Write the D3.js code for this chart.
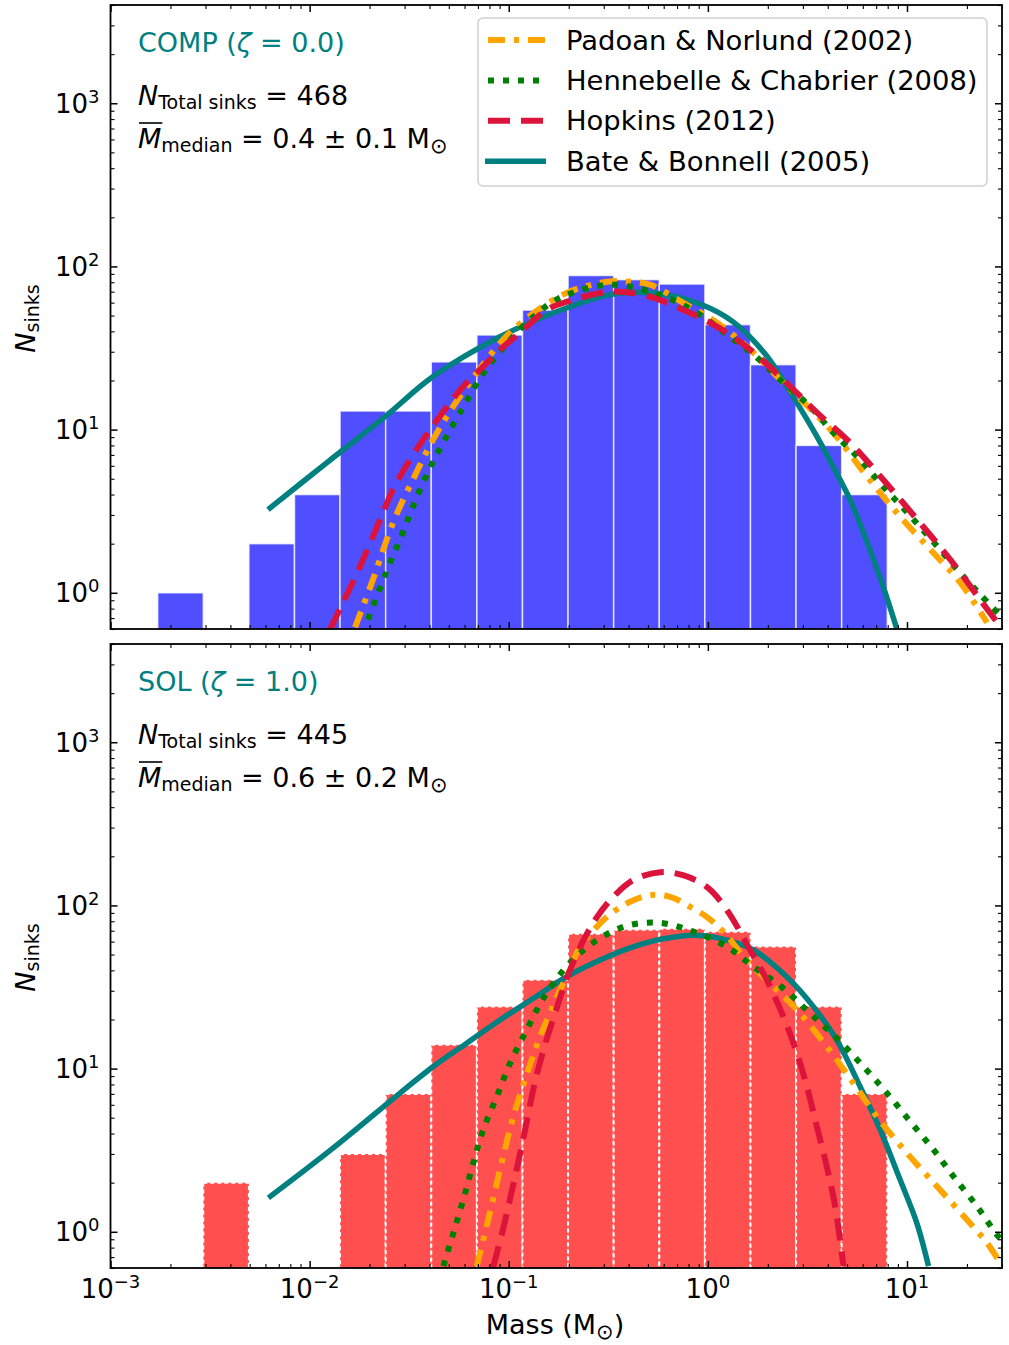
<!DOCTYPE html>
<html>
<head>
<meta charset="utf-8">
<script src="https://cdn.jsdelivr.net/npm/d3@7"></script>
<style>
  body { margin: 0; background: #fff; }
  text { font-family: "DejaVu Sans", sans-serif; }
</style>
</head>
<body>
<svg id="chart" width="1009" height="1345"></svg>
<script>
// histogram bin edges (Msun) and sink counts per bin
const binEdges = [0.001726, 0.002924, 0.004955, 0.008395, 0.01422, 0.02410, 0.04083, 0.06918,
  0.1172, 0.1986, 0.3365, 0.5702, 0.9661, 1.637, 2.773, 4.699, 7.962];
const compCounts = [1, 0, 2, 4, 13, 13, 26, 38, 54, 88, 83, 78, 44, 25, 8, 4];
const solCounts = [0, 2, 0, 0, 3, 7, 14, 24, 35, 67, 71, 72, 69, 56, 24, 7];

// model curves, [log10 M, log10 N]
const pnComp = [[-1.772,-0.212],[-1.682,0.081],[-1.581,0.430],[-1.481,0.694],[-1.380,0.939],[-1.280,1.141],
  [-1.159,1.349],[-1.029,1.551],[-0.893,1.698],[-0.707,1.839],[-0.506,1.906],[-0.391,1.906],[-0.290,1.888],
  [-0.125,1.778],[0.046,1.655],[0.212,1.490],[0.378,1.288],[0.629,0.982],[0.800,0.712],[0.965,0.467],
  [1.131,0.247],[1.267,0.063],[1.402,-0.182]];
const hcComp = [[-1.707,-0.164],[-1.606,0.155],[-1.536,0.357],[-1.471,0.559],[-1.395,0.767],[-1.310,0.963],
  [-1.219,1.159],[-1.129,1.343],[-1.019,1.514],[-0.893,1.674],[-0.742,1.808],[-0.476,1.888],[-0.205,1.808],
  [-0.039,1.704],[0.096,1.582],[0.247,1.441],[0.378,1.288],[0.513,1.141],[0.629,0.982],[0.764,0.816],
  [0.880,0.651],[1.001,0.492],[1.131,0.314],[1.252,0.143],[1.367,-0.010],[1.478,-0.151]];
const hopComp = [[-1.898,-0.225],[-1.832,-0.059],[-1.747,0.161],[-1.661,0.406],[-1.581,0.633],[-1.496,0.816],
  [-1.395,1.000],[-1.310,1.141],[-1.230,1.263],[-1.129,1.386],[-1.044,1.490],[-0.943,1.594],[-0.808,1.735],
  [-0.707,1.784],[-0.491,1.845],[-0.290,1.814],[-0.125,1.735],[0.046,1.631],[0.212,1.490],[0.378,1.306],
  [0.548,1.104],[0.714,0.920],[0.880,0.694],[1.051,0.449],[1.217,0.204],[1.367,-0.041],[1.453,-0.182]];
const bbComp = [[-2.209,0.510],[-1.913,0.798],[-1.621,1.080],[-1.380,1.325],[-1.044,1.569],[-0.707,1.747],
  [-0.466,1.833],[-0.240,1.833],[-0.030,1.765],[0.127,1.660],[0.290,1.460],[0.428,1.202],[0.548,0.957],
  [0.629,0.773],[0.714,0.571],[0.800,0.308],[0.880,0.039],[0.950,-0.225]];

const pnSol = [[-1.161,-0.210],[-1.111,0.034],[-1.044,0.381],[-0.977,0.707],[-0.902,0.993],[-0.843,1.196],
  [-0.793,1.339],[-0.751,1.462],[-0.709,1.563],[-0.642,1.747],[-0.558,1.869],[-0.475,1.961],[-0.391,2.022],
  [-0.290,2.063],[-0.190,2.053],[-0.089,1.991],[-0.006,1.930],[0.078,1.839],[0.195,1.665],[0.312,1.523],
  [0.447,1.360],[0.597,1.135],[0.731,0.911],[0.848,0.707],[0.999,0.483],[1.150,0.279],[1.300,0.075],
  [1.401,-0.067],[1.468,-0.190]];
const hcSol = [[-1.328,-0.210],[-1.278,-0.006],[-1.228,0.198],[-1.178,0.422],[-1.128,0.626],[-1.060,0.829],
  [-0.993,1.034],[-0.910,1.237],[-0.826,1.431],[-0.717,1.615],[-0.592,1.757],[-0.424,1.869],[-0.249,1.894],
  [-0.073,1.839],[0.095,1.747],[0.229,1.624],[0.379,1.492],[0.513,1.339],[0.647,1.187],[0.781,1.013],
  [0.899,0.850],[1.016,0.676],[1.133,0.503],[1.233,0.340],[1.351,0.157],[1.451,-0.017],[1.478,-0.053]];
const hopSol = [[-1.079,-0.218],[-1.029,0.014],[-0.983,0.259],[-0.928,0.565],[-0.868,0.919],[-0.818,1.146],
  [-0.762,1.360],[-0.712,1.543],[-0.642,1.745],[-0.557,1.928],[-0.476,2.051],[-0.376,2.155],[-0.240,2.204],
  [-0.125,2.185],[-0.004,2.112],[0.096,1.971],[0.212,1.727],[0.296,1.543],[0.379,1.319],[0.447,1.095],
  [0.497,0.891],[0.547,0.646],[0.597,0.401],[0.639,0.157],[0.681,-0.210]];
const bbSol = [[-2.207,0.208],[-1.881,0.514],[-1.546,0.850],[-1.379,1.013],[-1.211,1.156],[-1.044,1.298],
  [-0.876,1.431],[-0.709,1.563],[-0.541,1.665],[-0.390,1.740],[-0.230,1.794],[-0.073,1.818],
  [0.061,1.798],[0.229,1.727],[0.396,1.563],[0.530,1.380],[0.647,1.176],[0.764,0.891],[0.865,0.626],
  [0.965,0.320],[1.049,0.055],[1.108,-0.210]];

const models = ['Padoan & Norlund (2002)', 'Hennebelle & Chabrier (2008)', 'Hopkins (2012)', 'Bate & Bonnell (2005)'];
const xTicks = [1e-3, 1e-2, 1e-1, 1, 10];
const xTickExp = ['\u22123', '\u22122', '\u22121', '0', '1'];
const yTicks = [1, 10, 100, 1000];
const yTickExp = ['0', '1', '2', '3'];

const panels = [
  { name: 'COMP', zeta: '0.0', total: 468, median: '0.4 \u00b1 0.1', counts: compCounts,
    curves: [pnComp, hcComp, hopComp, bbComp], top: 5 },
  { name: 'SOL', zeta: '1.0', total: 445, median: '0.6 \u00b1 0.2', counts: solCounts,
    curves: [pnSol, hcSol, hopSol, bbSol], top: 644 }
];

const lineStyles = [
  { color: '#ffa500', dash: '17,9,5,9' },
  { color: '#008000', dash: '6,9' },
  { color: '#dc143c', dash: '22,11' },
  { color: '#008080', dash: null }
];
const barStyles = [
  { fill: '#4f4fff', dash: null, width: 1.5, opacity: 0.75 },
  { fill: '#ff4f4f', dash: '4,3', width: 2, opacity: 1 }
];

const svg = d3.select('#chart');
const left = 110.5, W = 891.5, H = 624;
const x = d3.scaleLog().domain([1e-3, 30]).range([0, W]);
const isMajor = v => Math.abs(Math.log10(v) - Math.round(Math.log10(v))) < 1e-6;

panels.forEach((p, pi) => {
  const y = d3.scaleLog().domain([0.6, 4000]).range([H, 0]);
  const g = svg.append('g').attr('transform', `translate(${left},${p.top})`);

  g.append('clipPath').attr('id', 'clip' + pi)
    .append('rect').attr('width', W).attr('height', H);
  const plot = g.append('g').attr('clip-path', `url(#clip${pi})`);

  const bs = barStyles[pi];
  const bins = p.counts.map((c, i) => ({ c, x0: binEdges[i], x1: binEdges[i + 1] })).filter(d => d.c > 0);
  plot.selectAll('rect.bar')
    .data(bins)
    .enter().append('rect')
    .attr('class', 'bar')
    .attr('x', d => x(d.x0))
    .attr('width', d => x(d.x1) - x(d.x0))
    .attr('y', d => y(d.c))
    .attr('height', d => H - y(d.c) + 4)
    .style('fill', bs.fill)
    .style('stroke', '#fff')
    .style('stroke-opacity', bs.opacity)
    .style('stroke-width', bs.width)
    .style('stroke-dasharray', bs.dash);

  const line = d3.line()
    .x(d => x(Math.pow(10, d[0])))
    .y(d => y(Math.pow(10, d[1])))
    .curve(d3.curveCatmullRom.alpha(0.5));

  [3, 0, 1, 2].forEach(k => {
    plot.append('path')
      .attr('d', line(p.curves[k]))
      .style('fill', 'none')
      .style('stroke', lineStyles[k].color)
      .style('stroke-width', k === 3 ? 5.5 : 6)
      .style('stroke-dasharray', lineStyles[k].dash);
  });

  // ticks, pointing inward on all four sides
  const minorX = x.ticks().filter(v => !isMajor(v));
  const minorY = y.ticks().filter(v => !isMajor(v));
  const tickSets = [
    [d3.axisBottom(x), `translate(0,${H})`, xTicks, minorX],
    [d3.axisTop(x), 'translate(0,0)', xTicks, minorX],
    [d3.axisLeft(y), 'translate(0,0)', yTicks, minorY],
    [d3.axisRight(y), `translate(${W},0)`, yTicks, minorY]
  ];
  tickSets.forEach(([axis, tr, major, minor]) => {
    g.append('g').attr('transform', tr)
      .call(axis.tickValues(major).tickSize(-7).tickSizeOuter(0).tickFormat(''))
      .call(s => s.select('.domain').remove())
      .selectAll('line').style('stroke', '#000').style('stroke-width', 1.5);
    g.append('g').attr('transform', tr)
      .call(axis.tickValues(minor).tickSize(-4).tickSizeOuter(0).tickFormat(''))
      .call(s => s.select('.domain').remove())
      .selectAll('line').style('stroke', '#000').style('stroke-width', 1.1);
  });

  g.append('rect')
    .attr('width', W).attr('height', H)
    .style('fill', 'none').style('stroke', '#000').style('stroke-width', 1.8);

  // y tick labels
  yTicks.forEach((v, i) => {
    const t = g.append('text')
      .attr('x', -11).attr('y', y(v) + 9.5)
      .attr('text-anchor', 'end')
      .style('font-size', '26px');
    t.append('tspan').text('10');
    t.append('tspan').attr('dy', -10).style('font-size', '18px').text(yTickExp[i]);
  });

  // x tick labels only under the lower panel
  if (pi === 1) {
    xTicks.forEach((v, i) => {
      const t = g.append('text')
        .attr('x', x(v)).attr('y', H + 30)
        .attr('text-anchor', 'middle')
        .style('font-size', '26px');
      t.append('tspan').text('10');
      t.append('tspan').attr('dy', -10).style('font-size', '18px').text(xTickExp[i]);
    });
  }

  // y label
  const yl = svg.append('text')
    .attr('transform', `translate(35,${p.top + 313.5}) rotate(-90)`)
    .attr('text-anchor', 'middle')
    .style('font-size', '27px');
  yl.append('tspan').style('font-style', 'italic').text('N');
  yl.append('tspan').attr('dy', 4).style('font-size', '19px').text('sinks');

  // annotations
  const a1 = svg.append('text')
    .attr('x', 138).attr('y', p.top + 47)
    .style('font-size', '27px').style('fill', '#008080');
  a1.append('tspan').text(`${p.name} (`);
  a1.append('tspan').style('font-style', 'italic').text('\u03b6');
  a1.append('tspan').text(` = ${p.zeta})`);

  const a2 = svg.append('text')
    .attr('x', 138).attr('y', p.top + 100)
    .style('font-size', '27px');
  a2.append('tspan').style('font-style', 'italic').text('N');
  a2.append('tspan').attr('dy', 4).style('font-size', '19px').text('Total sinks');
  a2.append('tspan').attr('dy', -4).text(` = ${p.total}`);

  const a3 = svg.append('text')
    .attr('x', 138).attr('y', p.top + 143)
    .style('font-size', '27px');
  a3.append('tspan').style('font-style', 'italic').text('M');
  a3.append('tspan').attr('dy', 4).style('font-size', '19px').text('median');
  a3.append('tspan').attr('dy', -4).text(` = ${p.median} M`);
  a3.append('tspan').attr('dy', 5).style('font-size', '21px').text('\u2299');
  const ext = a3.node().getExtentOfChar(0);
  svg.append('line')
    .attr('x1', ext.x + 1).attr('x2', ext.x + ext.width + 1)
    .attr('y1', p.top + 118).attr('y2', p.top + 118)
    .style('stroke', '#000').style('stroke-width', 1.6);
});

// x label
const xl = svg.append('text')
  .attr('x', 555).attr('y', 1334)
  .attr('text-anchor', 'middle')
  .style('font-size', '27px');
xl.append('tspan').text('Mass (M');
xl.append('tspan').attr('dy', 5).style('font-size', '21px').text('\u2299');
xl.append('tspan').attr('dy', -5).text(')');

// legend in the upper panel
const lg = svg.append('g').attr('transform', 'translate(478,18)');
lg.append('rect')
  .attr('width', 509).attr('height', 168).attr('rx', 5)
  .style('fill', '#fff').style('fill-opacity', 0.8)
  .style('stroke', '#d0d0d0').style('stroke-width', 1.5);
models.forEach((m, i) => {
  const row = lg.append('g').attr('transform', `translate(0,${22 + i * 40.4})`);
  row.append('line')
    .attr('x1', i === 3 ? 7 : 10).attr('x2', i === 3 ? 68 : 67)
    .style('stroke', lineStyles[i].color)
    .style('stroke-width', i === 3 ? 5.5 : 6)
    .style('stroke-dasharray', lineStyles[i].dash);
  row.append('text')
    .attr('x', 88).attr('y', 9.5)
    .style('font-size', '27.4px')
    .text(m);
});
</script>
</body>
</html>
